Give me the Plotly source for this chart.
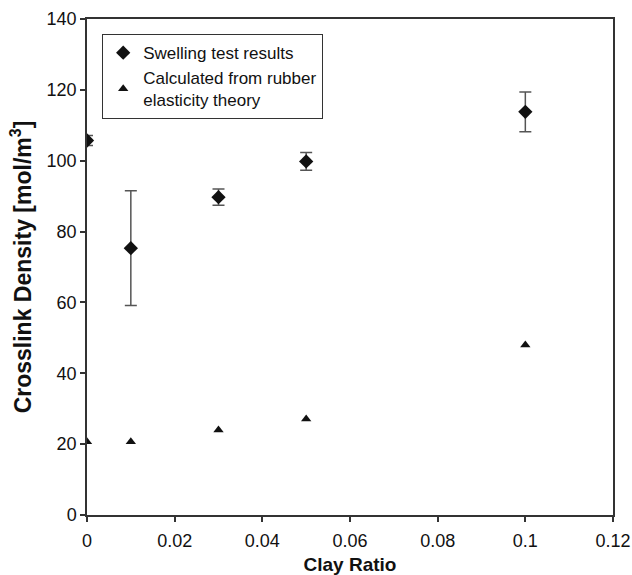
import plotly.graph_objects as go

clay_ratio = [0.0, 0.01, 0.03, 0.05, 0.1]
swelling = [105.7, 75.3, 89.7, 99.8, 113.8]
swelling_err = [1.4, 16.2, 2.3, 2.5, 5.6]
rubber_theory = [20.7, 20.7, 24.0, 27.1, 48.0]

FONT = "Liberation Sans, Arial, sans-serif"

fig = go.Figure()
fig.add_trace(go.Scatter(
    x=clay_ratio, y=swelling, mode="markers",
    name="Swelling test results",
    marker=dict(symbol="diamond", size=11, color="#111111"),
    error_y=dict(type="data", array=swelling_err, visible=True,
                 color="#555555", thickness=1.5, width=6),
))
fig.add_trace(go.Scatter(
    x=clay_ratio, y=rubber_theory, mode="markers",
    name="Calculated from rubber<br>elasticity theory",
    marker=dict(symbol="triangle-up", size=9, color="#111111"),
))

axis_common = dict(
    showgrid=False, zeroline=False, showline=True, linecolor="#333333",
    linewidth=1.5, mirror=True, ticks="outside", ticklen=5,
    tickcolor="#333333", tickwidth=1.5, automargin=False,
    tickfont=dict(family=FONT, size=18, color="#111111"),
)

fig.update_layout(
    width=632, height=575,
    margin=dict(l=87, r=19, t=19, b=60),
    paper_bgcolor="white", plot_bgcolor="white",
    showlegend=True,
    legend=dict(
        x=0.0285, y=0.97, xanchor="left", yanchor="top",
        bordercolor="#333333", borderwidth=1.2, bgcolor="white",
        font=dict(family=FONT, size=17, color="#111111"),
        tracegroupgap=0, itemwidth=30,
    ),
    xaxis=dict(range=[0, 0.12], tickvals=[0, 0.02, 0.04, 0.06, 0.08, 0.1, 0.12],
               ticktext=["0", "0.02", "0.04", "0.06", "0.08", "0.1", "0.12"],
               ticklabelstandoff=4,
               title=dict(text="<b>Clay Ratio</b>", standoff=13,
                          font=dict(family=FONT, size=19, color="#111111")),
               **axis_common),
    yaxis=dict(range=[0, 140], tickvals=[0, 20, 40, 60, 80, 100, 120, 140],
               ticklabelstandoff=0,
               title=dict(text="<b>Crosslink Density [mol/m<sup>3</sup>]</b>", standoff=9,
                          font=dict(family=FONT, size=23, color="#111111")),
               **axis_common),
)

fig.write_html("out.html")
